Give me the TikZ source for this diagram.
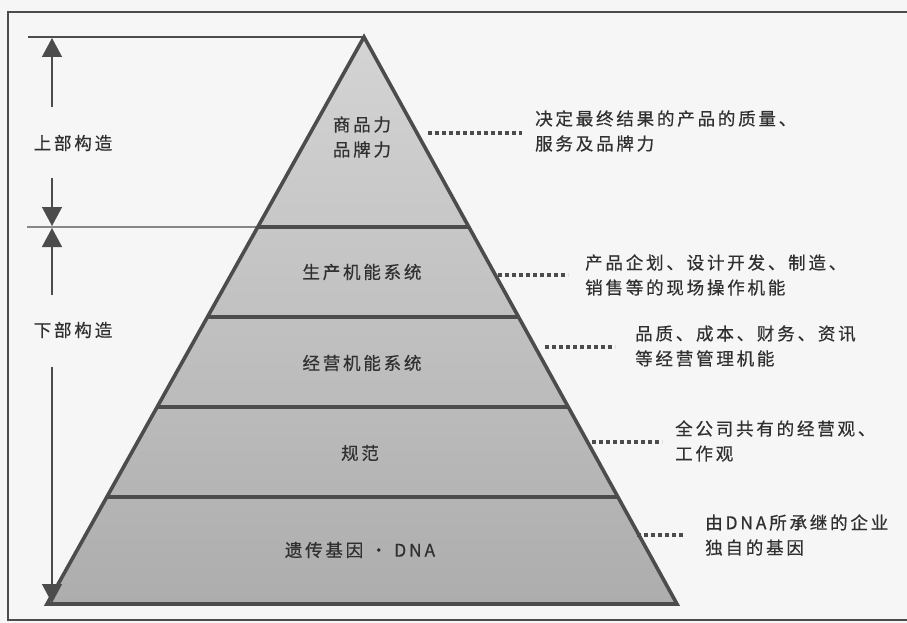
\documentclass[tikz,border=0pt]{standalone}
\usepackage{fontspec}
\setmainfont{Noto Sans CJK SC}[LetterSpace=16,FakeBold=0.5]
\usetikzlibrary{arrows.meta,calc}
\definecolor{ink}{HTML}{303030}
\definecolor{edge}{HTML}{4C4C4C}
\definecolor{paper}{HTML}{F6F6F6}
\definecolor{fillTop}{HTML}{D4D4D4}
\definecolor{fillBot}{HTML}{ADADAD}
\begin{document}
\begin{tikzpicture}[x=1pt,y=-1pt,
  txt/.style={text=ink,font=\fontsize{17.5}{25}\selectfont,inner sep=0pt},
  desc/.style={txt,align=left,anchor=west},
  layerline/.style={draw=edge,line width=3.6pt},
  thinline/.style={draw=edge,line width=1.3pt},
  annarrow/.style={draw=edge,line width=1.4pt,-{Triangle[width=20pt,length=19pt]}},
  dotline/.style={draw=edge,line width=4pt,dash pattern=on 4pt off 3pt}
]
\useasboundingbox (0,0) rectangle (907,623);
\fill[paper] (0,0) rectangle (907,623);
% frame
\draw[edge,line width=1.6pt] (915,12) -- (8,12) -- (8,620) -- (915,620);
% pyramid corners
\coordinate (apex) at (364,37);
\coordinate (bl) at (47,604);
\coordinate (br) at (677,604);
\shade[top color=fillTop,bottom color=fillBot] (apex) -- (bl) -- (br) -- cycle;
% layer boundaries
\coordinate (l1) at ($(apex)!0.3351!(bl)$);
\coordinate (r1) at ($(apex)!0.3351!(br)$);
\coordinate (l2) at ($(apex)!0.4938!(bl)$);
\coordinate (r2) at ($(apex)!0.4938!(br)$);
\coordinate (l3) at ($(apex)!0.6525!(bl)$);
\coordinate (r3) at ($(apex)!0.6525!(br)$);
\coordinate (l4) at ($(apex)!0.8113!(bl)$);
\coordinate (r4) at ($(apex)!0.8113!(br)$);
\draw[layerline] (l1) -- (r1);
\draw[layerline] (l2) -- (r2);
\draw[layerline] (l3) -- (r3);
\draw[layerline] (l4) -- (r4);
\draw[layerline,line join=miter] (apex) -- (bl) -- (br) -- cycle;
% left guide lines
\coordinate (topL) at (28,37);
\coordinate (midL) at (27,227);
\draw[thinline] (topL) -- (apex);
\draw[thinline] (midL) -- (l1);
% arrows
\coordinate (a1s) at (52,107);
\coordinate (a1e) at (52,38);
\coordinate (a2s) at (52,178);
\coordinate (a2e) at (52,226);
\coordinate (a3s) at (52,295);
\coordinate (a3e) at (52,228);
\coordinate (a4s) at (52,367);
\coordinate (a4e) at (52,603);
\draw[annarrow] (a1s) -- (a1e);
\draw[annarrow] (a2s) -- (a2e);
\draw[annarrow] (a3s) -- (a3e);
\draw[annarrow] (a4s) -- (a4e);
\node[txt] (upper) at (73,143) {上部构造};
\node[txt] (lower) at (73,330) {下部构造};
% pyramid labels
\node[txt,align=center] (t1) at (362,137) {商品力\\品牌力};
\node[txt] (t2) at (362,272) {生产机能系统};
\node[txt] (t3) at (362,363) {经营机能系统};
\node[txt] (t4) at (360,453) {规范};
\node[txt] (t5) at (360,550) {遗传基因 · DNA};
% descriptions
\node[desc] (d1) at (535,131) {决定最终结果的产品的质量、\\服务及品牌力};
\node[desc] (d2) at (585,275) {产品企划、设计开发、制造、\\销售等的现场操作机能};
\node[desc] (d3) at (635,346) {品质、成本、财务、资讯\\等经营管理机能};
\node[desc] (d4) at (675,441) {全公司共有的经营观、\\工作观};
\node[desc] (d5) at (705,535) {由DNA所承继的企业\\独自的基因};
% dotted leaders
\coordinate (p1) at (428,133);
\coordinate (p2) at (498,275);
\coordinate (p3) at (545,347);
\coordinate (p4) at (592,442);
\coordinate (p5) at (637,535);
\draw[dotline] (p1) -- ($(d1.west |- p1)+(-13,0)$);
\draw[dotline] (p2) -- ($(d2.west |- p2)+(-17,0)$);
\draw[dotline] (p3) -- ($(d3.west |- p3)+(-20,0)$);
\draw[dotline] (p4) -- ($(d4.west |- p4)+(-13,0)$);
\draw[dotline] (p5) -- ($(d5.west |- p5)+(-20,0)$);
\end{tikzpicture}
\end{document}
